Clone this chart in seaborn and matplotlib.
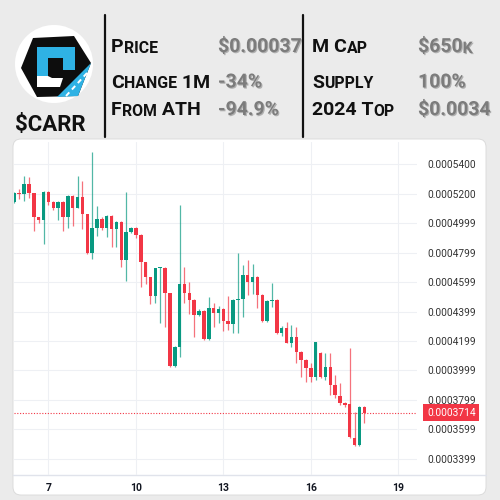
import numpy as np
import pandas as pd
import seaborn as sns
import matplotlib.pyplot as plt
import matplotlib.patheffects as pe
import matplotlib.transforms as mtransforms
from matplotlib.patches import Circle, Polygon, FancyBboxPatch

# ---- data (4h candles, prices in 1e-7 units) ----
start_day = 5 + 20 / 24
candle_hours = 4
opens = [5142, 5203, 5196, 5264, 5203, 5040, 5024, 5214, 5142, 5101,
         5146, 5044, 5185, 5105, 5180, 5060, 4796, 4965, 5031, 4965,
         5051, 4959, 5008, 4750, 4940, 4967, 4920, 4739, 4633, 4506,
         4694, 4698, 4524, 4032, 4161, 4585, 4524, 4479, 4377, 4404,
         4214, 4422, 4388, 4415, 4336, 4313, 4479, 4487, 4648, 4603,
         4637, 4512, 4338, 4472, 4479, 4252, 4286, 4184, 4229, 4127,
         4071, 4019, 3954, 4117, 3954, 4026, 3901, 3827, 3777, 3770,
         3543, 3494, 3754]
closes = [5203, 5196, 5264, 5203, 5040, 5024, 5214, 5142, 5101, 5146,
          5044, 5185, 5105, 5180, 5060, 4796, 4965, 5031, 4965, 5051,
          4959, 5008, 4750, 4940, 4967, 4920, 4739, 4633, 4506, 4694,
          4698, 4524, 4032, 4161, 4585, 4524, 4479, 4377, 4404, 4214,
          4422, 4388, 4415, 4336, 4313, 4479, 4487, 4648, 4603, 4637,
          4512, 4338, 4472, 4479, 4252, 4286, 4189, 4229, 4127, 4071,
          4015, 3954, 4191, 3954, 4026, 3901, 3833, 3781, 3765, 3546,
          3494, 3754, 3714]
highs = [5212, 5230, 5321, 5312, 5205, 5042, 5219, 5219, 5153, 5151,
         5151, 5192, 5192, 5321, 5287, 5062, 5481, 5117, 5044, 5056,
         5056, 5015, 5015, 5210, 4974, 4974, 4927, 4739, 4633, 4698,
         4703, 4703, 4526, 4165, 5124, 4705, 4603, 4482, 4417, 4411,
         4501, 4458, 4438, 4424, 4506, 4485, 4798, 4716, 4750, 4723,
         4641, 4519, 4479, 4592, 4485, 4304, 4331, 4309, 4297, 4132,
         4078, 4049, 4193, 4127, 4117, 4117, 3969, 3913, 3786, 4150,
         3720, 3759, 3759]
lows = [5137, 5164, 5153, 5169, 4947, 5003, 4857, 5124, 5090, 5022,
        4947, 4965, 4981, 5103, 4959, 4791, 4755, 4913, 4954, 4904,
        4836, 4840, 4705, 4610, 4933, 4900, 4565, 4587, 4451, 4460,
        4324, 4297, 4024, 4024, 4093, 4458, 4381, 4227, 4370, 4207,
        4207, 4297, 4322, 4268, 4275, 4256, 4256, 4365, 4512, 4519,
        4424, 4329, 4329, 4433, 4248, 4236, 4186, 4161, 4049, 3958,
        3924, 3924, 3935, 3949, 3935, 3833, 3813, 3765, 3752, 3541,
        3487, 3487, 3645]

day_ticks = [7, 10, 13, 16, 19]
price_ticks = [0.00054, 0.00052, 0.0005, 0.00048, 0.00046, 0.00044,
               0.00042, 0.0004, 0.00038, 0.00036, 0.00034]
price_labels = ["0.0005400", "0.0005200", "0.0004999", "0.0004799", "0.0004599",
                "0.0004399", "0.0004199", "0.0003999", "0.0003799", "0.0003599",
                "0.0003399"]
last_label = "0.0003714"

ticker = "$CARR"
left_rows = [("Price", "$0.00037"), ("Change 1M", "-34%"), ("From ATH", "-94.9%")]
right_rows = [("M Cap", "$650k"), ("Supply", "100%"), ("2024 Top", "$0.0034")]

df = pd.DataFrame({"open": opens, "high": highs, "low": lows, "close": closes}) * 1e-7
df["t"] = start_day + np.arange(len(df)) * candle_hours / 24
df["up"] = df["close"] >= df["open"]

GREEN, RED = "#089981", "#f23645"

sns.set_theme(style="white")
HEAD = ["Roboto", "DejaVu Sans"]
plt.rcParams["font.family"] = ["Roboto", "DejaVu Sans"]

fig = plt.figure(figsize=(5, 5), dpi=100)
fig.patch.set_facecolor("#ebebeb")

# ---- overlay in pixel coordinates ----
bg = fig.add_axes([0, 0, 1, 1])
bg.set_xlim(0, 500)
bg.set_ylim(500, 0)
bg.axis("off")

bg.add_patch(FancyBboxPatch((13, 139), 473, 356, boxstyle="round,pad=0,rounding_size=8",
                            fc="white", ec="#d8d8d8", lw=0.6))
bg.plot([13, 486], [475, 475], color="#e0e3eb", lw=1)

# logo
bg.add_patch(Circle((54, 64), 39, fc="white", ec="none"))
bg.add_patch(Polygon([(33, 38), (74, 36), (91, 63), (78, 96), (37, 97), (21, 68)],
                     fc="#0d0d0d", ec="none"))
bg.add_patch(Polygon([(91, 63), (78, 96), (57, 97)], fc="#2fb2e4", ec="none"))
bg.plot([87, 66], [73, 96], color="white", lw=1.4, ls=(0, (2.5, 2)))
bg.add_patch(Polygon([(37, 47), (75, 47), (75, 70), (63, 70), (63, 58), (48, 58),
                      (48, 76), (37, 76)], fc="#2fb2e4", ec="none"))
bg.add_patch(Polygon([(37, 76), (48, 76), (52, 78), (63, 78), (60, 87), (37, 87)],
                     fc="white", ec="none"))
bg.text(50, 131, ticker, ha="center", va="baseline", fontsize=16, fontweight="bold",
        color="#111111", family=HEAD)

bg.plot([105, 105], [15, 137], color="#111111", lw=1.6)
bg.plot([303, 303], [15, 137], color="#111111", lw=1.6)


def caps_text(ax, x, y, s, size, color, effects=None):
    groups = []
    for ch in s:
        low = ch.islower()
        if groups and groups[-1][1] == low:
            groups[-1][0] += ch
        else:
            groups.append([ch, low])
    prev = None
    for part, low in groups:
        kw = dict(fontsize=size * 0.82 if low else size, color=color,
                  fontweight="bold", family=HEAD, path_effects=effects)
        if prev is None:
            prev = ax.text(x, y, part.upper(), ha="left", va="baseline", **kw)
        else:
            prev = ax.annotate(part.upper(), xy=(1, 0), xycoords=prev,
                               ha="left", va="bottom", **kw)


shadow = [pe.SimplePatchShadow(offset=(0.8, -0.8), shadow_rgbFace="#444444", alpha=0.35),
          pe.Normal()]
row_y = [52, 87.5, 115]
for (lab, val), y in zip(left_rows, row_y):
    caps_text(bg, 111, y, lab, 14, "#111111")
    caps_text(bg, 218, y, val, 14, "#7c7c7c", shadow)
for (lab, val), y in zip(right_rows, row_y):
    caps_text(bg, 312, y, lab, 14, "#111111")
    caps_text(bg, 418, y, val, 14, "#7c7c7c", shadow)

# ---- candlestick chart ----
ax = fig.add_axes([14 / 500, 25 / 500, 403 / 500, 333 / 500])
ax.set_facecolor("none")
colors = np.where(df["up"], GREEN, RED)
ax.vlines(df["t"], df["low"], df["high"], colors=colors, lw=0.9, alpha=0.7, zorder=2)
body = (df["close"] - df["open"]).abs().clip(lower=7e-7)
ax.bar(df["t"], body, bottom=df[["open", "close"]].min(axis=1), width=0.12,
       color=colors, lw=0, zorder=3)

last = df["close"].iloc[-1]
ax.axhline(last, color=RED, lw=0.8, ls=(0, (1, 1.5)), zorder=1)
trans = mtransforms.blended_transform_factory(ax.transAxes, ax.transData)
ax.text(1 + 10 / 403, last, last_label, transform=trans, ha="left", va="center",
        fontsize=7.3, color="white",
        bbox=dict(boxstyle="square,pad=0.35", fc=RED, ec="none"))

ax.set_xlim(5.82, 19.64)
ax.set_ylim(0.000329, 0.0005551)
ax.set_xticks(day_ticks)
ax.set_xticklabels([str(d) for d in day_ticks])
ax.set_yticks(price_ticks)
ax.set_yticklabels(price_labels)
ax.yaxis.tick_right()
ax.tick_params(axis="y", length=0, pad=7.2, labelsize=7.3, labelcolor="#333333")
ax.tick_params(axis="x", length=0, pad=5.5, labelsize=7.5, labelcolor="#131722")
for lbl in ax.get_xticklabels():
    lbl.set_fontweight("bold")
ax.grid(True, color="#eef0f4", lw=0.8)
ax.set_axisbelow(True)
sns.despine(ax=ax, left=True, bottom=True, right=True, top=True)

fig.savefig("out.png", dpi=100, facecolor=fig.get_facecolor())
